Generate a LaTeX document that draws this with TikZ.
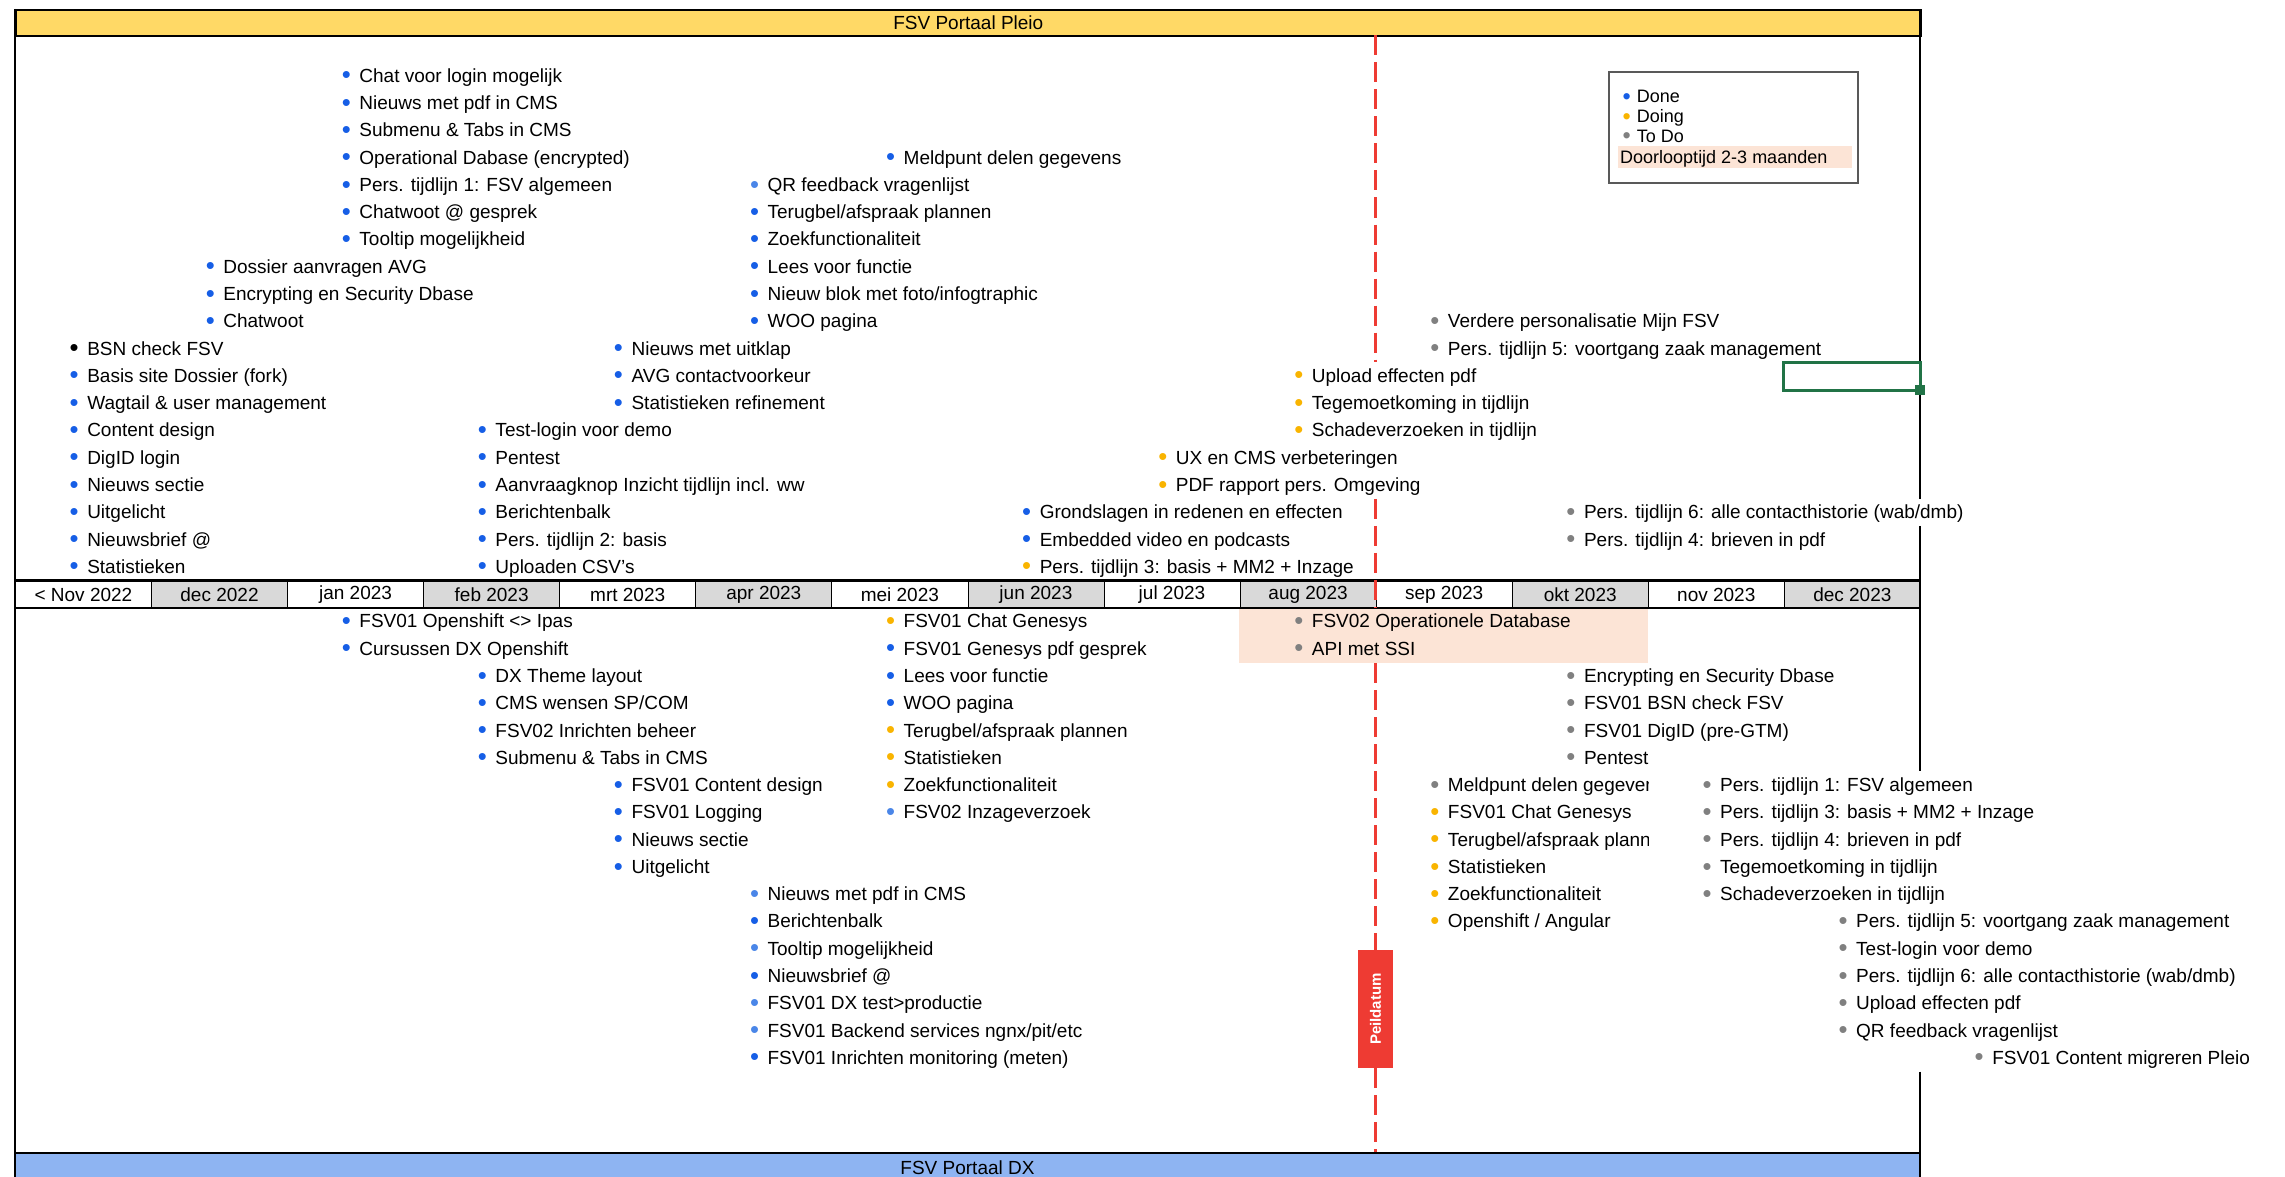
\documentclass[tikz,border=0pt]{standalone}
\usepackage{fontspec}
\setmainfont{Liberation Sans}
\definecolor{hdr}{HTML}{FFD966}
\definecolor{dxbar}{HTML}{8EB4F2}
\definecolor{mgrey}{HTML}{D9D9D9}
\definecolor{peach}{HTML}{FCE4D6}
\definecolor{cdone}{HTML}{165EE6}
\definecolor{clight}{HTML}{4A86E8}
\definecolor{cdoing}{HTML}{F9B400}
\definecolor{ctodo}{HTML}{808080}
\definecolor{pred}{HTML}{EE3B33}
\definecolor{xgreen}{HTML}{217346}
\newcommand\bl[1]{\textcolor{#1}{\raisebox{-1.6pt}{\scalebox{1.35}{•}}}\hspace{8.6pt}}
\newcommand\lb[1]{\textcolor{#1}{\raisebox{-1.4pt}{\scalebox{1.3}{•}}}\hspace{6pt}}
\newcommand\bd{\bl{cdone}}
\newcommand\blb{\bl{clight}}
\newcommand\bo{\bl{cdoing}}
\newcommand\bg{\bl{ctodo}}
\newcommand\bk{\bl{black}}
\begin{document}
\begin{tikzpicture}[x=1pt,y=-1pt,font=\fontsize{19}{22}\selectfont,
  cell/.style 2 args={at={({69.5+136.07*#1},{82.3+27.28*#2})}},
  itm/.style={anchor=base west, inner sep=0pt},
  month/.style={draw=black, line width=0.8pt, minimum width=136.07pt, minimum height=27.3pt, inner sep=0pt, anchor=north west},
  pline/.style={draw=pred, line width=3pt, dash pattern=on 20pt off 7pt},
  frame/.style={draw=black, line width=1.6pt},
  leg/.style={anchor=base west, inner sep=0pt, font=\fontsize{18}{20}\selectfont}]
\useasboundingbox (0,0) rectangle (2285,1177);
\fill[white] (0,0) rectangle (2285,1177);

% backgrounds
\fill[peach] (1239,608) rectangle (1648,663);
\node[draw=black, line width=1.6pt, fill=hdr, minimum width=1905pt, minimum height=26.5pt, inner sep=0pt, anchor=north west] (head) at (15,9) {FSV Portaal Pleio};
\fill[dxbar] (15,1153) rectangle (1920,1180);
\node (foot) at (967.5,1168) {FSV Portaal DX};

% months
\foreach \i/\m/\f in {0/{< Nov 2022}/white, 1/{dec 2022}/mgrey, 2/{jan 2023}/white, 3/{feb 2023}/mgrey, 4/{mrt 2023}/white, 5/{apr 2023}/mgrey, 6/{mei 2023}/white, 7/{jun 2023}/mgrey, 8/{jul 2023}/white, 9/{aug 2023}/mgrey, 10/{sep 2023}/white, 11/{okt 2023}/mgrey, 12/{nov 2023}/white, 13/{dec 2023}/mgrey}
  \node[month, fill=\f] (m\i) at ({15+136.07*\i},580.5) {\m};
\draw[line width=2.2pt] (15,580.5) -- (1920,580.5);
\draw[line width=2.2pt] (15,607.8) -- (1920,607.8);

% peildatum line
\draw[pline] (1375,35.5) -- (1375,362.3);
\draw[pline] (1375,498.8) -- (1375,608);
\draw[pline] (1375,663) -- (1375,950);
\draw[pline] (1375,1068) -- (1375,1153);
\node[fill=pred, minimum width=118pt, minimum height=35pt, inner sep=0pt, text=white, font=\bfseries\fontsize{15}{15}\selectfont, rotate=90] (peil) at (1375.5,1009) {Peildatum};

% frame
\draw[frame] (15,9) -- (15,1177);
\draw[frame] (1920,9) -- (1920,498.8);
\draw[frame] (1920,525.9) -- (1920,771.4);
\draw[frame] (1920,1071.5) -- (1920,1177);
\draw[frame] (15,1153) -- (1920,1153);

% green selection
\draw[xgreen, line width=3pt] (1783,362) rectangle (1920,390);
\fill[xgreen] (1915,385) rectangle (1925,395);

% legend
\draw[draw=black!65, line width=1.3pt, fill=white] (1609,72) rectangle (1858,183);
\fill[peach] (1618,146.5) rectangle (1852,168.5);
\node[leg] (l1) at (1622.5,103) {\lb{cdone}Done};
\node[leg] (l2) at (1622.5,123) {\lb{cdoing}Doing};
\node[leg] (l3) at (1622.5,142.5) {\lb{ctodo}To Do};
\node[leg] (l4) at (1620,164) {Doorlooptijd 2-3 maanden};

% ---- top items
\node[itm,cell={2}{0}] (a1) {\bd Chat voor login mogelijk};
\node[itm,cell={2}{1}] (a2) {\bd Nieuws met pdf in CMS};
\node[itm,cell={2}{2}] (a3) {\bd Submenu \& Tabs in CMS};
\node[itm,cell={2}{3}] (a4) {\bd Operational Dabase (encrypted)};
\node[itm,cell={2}{4}] (a5) {\bd Pers. tijdlijn 1: FSV algemeen};
\node[itm,cell={2}{5}] (a6) {\bd Chatwoot @ gesprek};
\node[itm,cell={2}{6}] (a7) {\bd Tooltip mogelijkheid};
\node[itm,cell={1}{7}] (b1) {\bd Dossier aanvragen AVG};
\node[itm,cell={1}{8}] (b2) {\bd Encrypting en Security Dbase};
\node[itm,cell={1}{9}] (b3) {\bd Chatwoot};
\node[itm,cell={0}{10}] (c1) {\bk BSN check FSV};
\node[itm,cell={0}{11}] (c2) {\bd Basis site Dossier (fork)};
\node[itm,cell={0}{12}] (c3) {\bd Wagtail \& user management};
\node[itm,cell={0}{13}] (c4) {\bd Content design};
\node[itm,cell={0}{14}] (c5) {\bd DigID login};
\node[itm,cell={0}{15}] (c6) {\bd Nieuws sectie};
\node[itm,cell={0}{16}] (c7) {\bd Uitgelicht};
\node[itm,cell={0}{17}] (c8) {\bd Nieuwsbrief @};
\node[itm,cell={0}{18}] (c9) {\bd Statistieken};
\node[itm,cell={3}{13}] (d1) {\bd Test-login voor demo};
\node[itm,cell={3}{14}] (d2) {\bd Pentest};
\node[itm,cell={3}{15}] (d3) {\bd Aanvraagknop Inzicht tijdlijn incl. ww};
\node[itm,cell={3}{16}] (d4) {\bd Berichtenbalk};
\node[itm,cell={3}{17}] (d5) {\bd Pers. tijdlijn 2: basis};
\node[itm,cell={3}{18}] (d6) {\bd Uploaden CSV's};
\node[itm,cell={4}{10}] (e1) {\bd Nieuws met uitklap};
\node[itm,cell={4}{11}] (e2) {\bd AVG contactvoorkeur};
\node[itm,cell={4}{12}] (e3) {\bd Statistieken refinement};
\node[itm,cell={5}{4}] (f1) {\blb QR feedback vragenlijst};
\node[itm,cell={5}{5}] (f2) {\bd Terugbel/afspraak plannen};
\node[itm,cell={5}{6}] (f3) {\bd Zoekfunctionaliteit};
\node[itm,cell={5}{7}] (f4) {\bd Lees voor functie};
\node[itm,cell={5}{8}] (f5) {\bd Nieuw blok met foto/infogtraphic};
\node[itm,cell={5}{9}] (f6) {\bd WOO pagina};
\node[itm,cell={6}{3}] (g1) {\bd Meldpunt delen gegevens};
\node[itm,cell={7}{16}] (h1) {\bd Grondslagen in redenen en effecten};
\node[itm,cell={7}{17}] (h2) {\bd Embedded video en podcasts};
\node[itm,cell={7}{18}] (h3) {\bo Pers. tijdlijn 3: basis + MM2 + Inzage};
\node[itm,cell={8}{14}] (i1) {\bo UX en CMS verbeteringen};
\node[itm,cell={8}{15}] (i2) {\bo PDF rapport pers. Omgeving};
\node[itm,cell={9}{11}] (j1) {\bo Upload effecten pdf};
\node[itm,cell={9}{12}] (j2) {\bo Tegemoetkoming in tijdlijn};
\node[itm,cell={9}{13}] (j3) {\bo Schadeverzoeken in tijdlijn};
\node[itm,cell={10}{9}] (k1) {\bg Verdere personalisatie Mijn FSV};
\node[itm,cell={10}{10}] (k2) {\bg Pers. tijdlijn 5: voortgang zaak management};
\node[itm,cell={11}{16}] (l5) {\bg Pers. tijdlijn 6: alle contacthistorie (wab/dmb)};
\node[itm,cell={11}{17}] (l6) {\bg Pers. tijdlijn 4: brieven in pdf};

% ---- bottom items
\node[itm,cell={2}{20}] (p1) {\bd FSV01 Openshift <> Ipas};
\node[itm,cell={2}{21}] (p2) {\bd Cursussen DX Openshift};
\node[itm,cell={3}{22}] (q1) {\bd DX Theme layout};
\node[itm,cell={3}{23}] (q2) {\bd CMS wensen SP/COM};
\node[itm,cell={3}{24}] (q3) {\bd FSV02 Inrichten beheer};
\node[itm,cell={3}{25}] (q4) {\bd Submenu \& Tabs in CMS};
\node[itm,cell={4}{26}] (r1) {\bd FSV01 Content design};
\node[itm,cell={4}{27}] (r2) {\bd FSV01 Logging};
\node[itm,cell={4}{28}] (r3) {\bd Nieuws sectie};
\node[itm,cell={4}{29}] (r4) {\bd Uitgelicht};
\node[itm,cell={5}{30}] (s1) {\blb Nieuws met pdf in CMS};
\node[itm,cell={5}{31}] (s2) {\bd Berichtenbalk};
\node[itm,cell={5}{32}] (s3) {\blb Tooltip mogelijkheid};
\node[itm,cell={5}{33}] (s4) {\bd Nieuwsbrief @};
\node[itm,cell={5}{34}] (s5) {\blb FSV01 DX test>productie};
\node[itm,cell={5}{35}] (s6) {\blb FSV01 Backend services ngnx/pit/etc};
\node[itm,cell={5}{36}] (s7) {\bd FSV01 Inrichten monitoring (meten)};
\node[itm,cell={6}{20}] (u1) {\bo FSV01 Chat Genesys};
\node[itm,cell={6}{21}] (u2) {\bd FSV01 Genesys pdf gesprek};
\node[itm,cell={6}{22}] (u3) {\bd Lees voor functie};
\node[itm,cell={6}{23}] (u4) {\bd WOO pagina};
\node[itm,cell={6}{24}] (u5) {\bo Terugbel/afspraak plannen};
\node[itm,cell={6}{25}] (u6) {\bo Statistieken};
\node[itm,cell={6}{26}] (u7) {\bo Zoekfunctionaliteit};
\node[itm,cell={6}{27}] (u8) {\blb FSV02 Inzageverzoek};
\node[itm,cell={9}{20}] (v1) {\bg FSV02 Operationele Database};
\node[itm,cell={9}{21}] (v2) {\bg API met SSI};
\node[itm,cell={11}{22}] (w1) {\bg Encrypting en Security Dbase};
\node[itm,cell={11}{23}] (w2) {\bg FSV01 BSN check FSV};
\node[itm,cell={11}{24}] (w3) {\bg FSV01 DigID (pre-GTM)};
\node[itm,cell={11}{25}] (w4) {\bg Pentest};
\begin{scope}
\clip (1400,770) rectangle (1648,860);
\node[itm,cell={10}{26}] (x1) {\bg Meldpunt delen gegevens};
\node[itm,cell={10}{28}] (x3) {\bo Terugbel/afspraak plannen};
\end{scope}
\node[itm,cell={10}{27}] (x2) {\bo FSV01 Chat Genesys};
\node[itm,cell={10}{29}] (x4) {\bo Statistieken};
\node[itm,cell={10}{30}] (x5) {\bo Zoekfunctionaliteit};
\node[itm,cell={10}{31}] (x6) {\bo Openshift / Angular};
\node[itm,cell={12}{26}] (y1) {\bg Pers. tijdlijn 1: FSV algemeen};
\node[itm,cell={12}{27}] (y2) {\bg Pers. tijdlijn 3: basis + MM2 + Inzage};
\node[itm,cell={12}{28}] (y3) {\bg Pers. tijdlijn 4: brieven in pdf};
\node[itm,cell={12}{29}] (y4) {\bg Tegemoetkoming in tijdlijn};
\node[itm,cell={12}{30}] (y5) {\bg Schadeverzoeken in tijdlijn};
\node[itm,cell={13}{31}] (z1) {\bg Pers. tijdlijn 5: voortgang zaak management};
\node[itm,cell={13}{32}] (z2) {\bg Test-login voor demo};
\node[itm,cell={13}{33}] (z3) {\bg Pers. tijdlijn 6: alle contacthistorie (wab/dmb)};
\node[itm,cell={13}{34}] (z4) {\bg Upload effecten pdf};
\node[itm,cell={13}{35}] (z5) {\bg QR feedback vragenlijst};
\node[itm,cell={14}{36}] (z6) {\bg FSV01 Content migreren Pleio};
\end{tikzpicture}
\end{document}
